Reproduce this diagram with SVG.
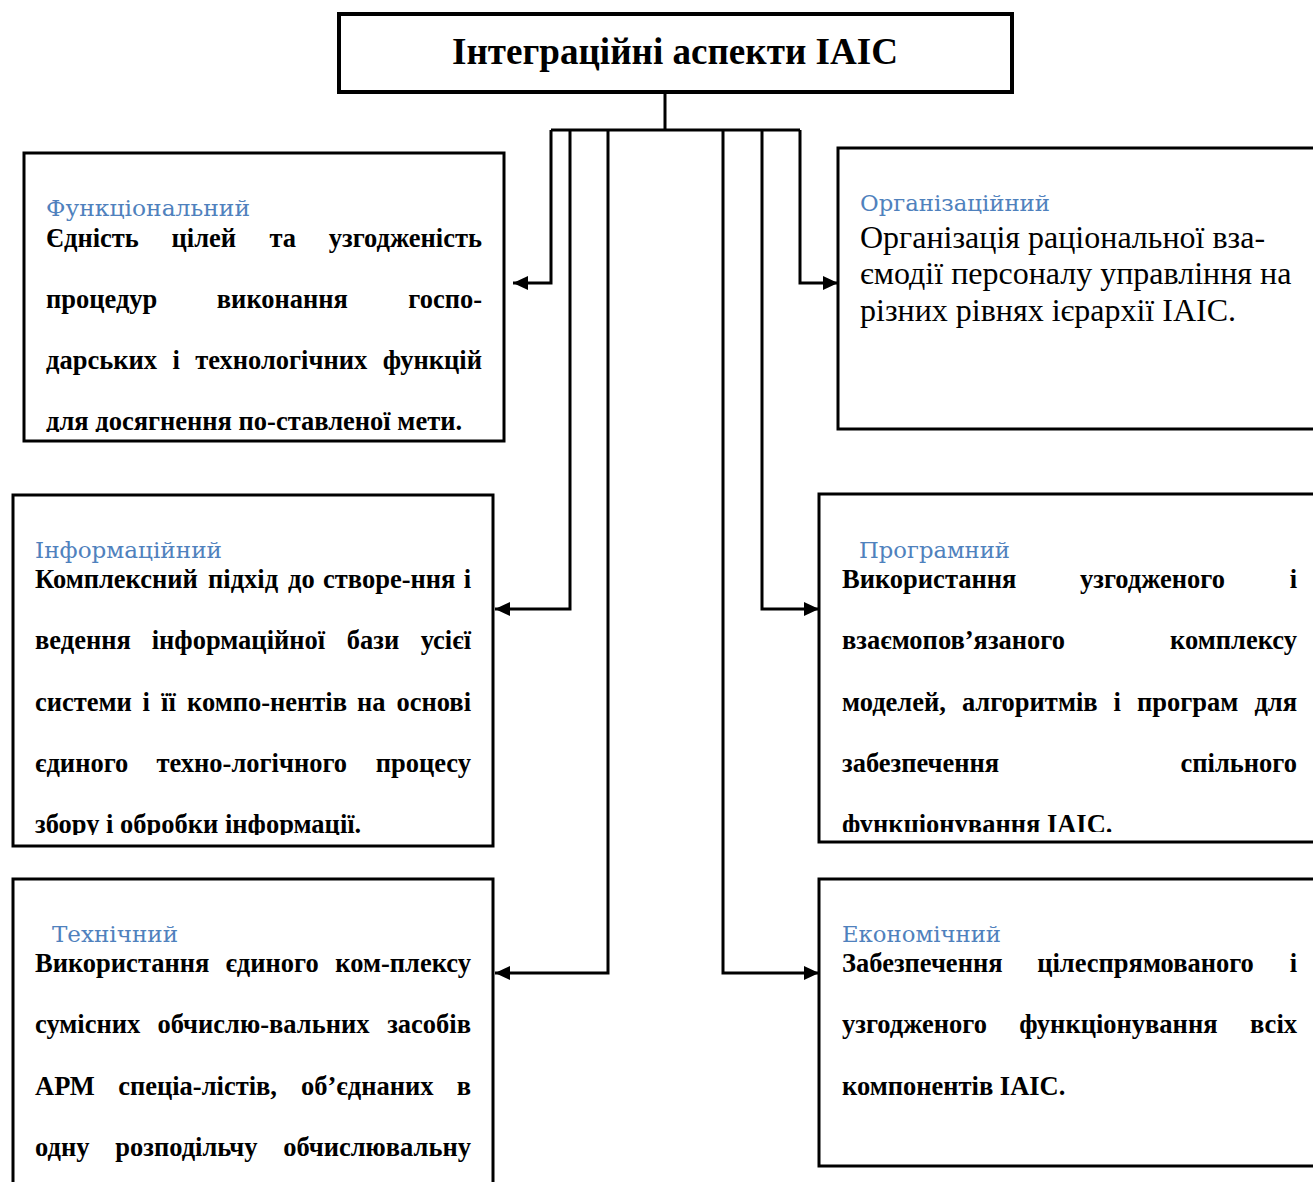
<svg xmlns="http://www.w3.org/2000/svg" width="1313" height="1182" viewBox="0 0 1313 1182">
  <style>
    .box { fill: #ffffff; stroke: #000000; stroke-width: 3; }
    .title-box { fill: #ffffff; stroke: #000000; stroke-width: 4; }
    .title { font-family: "Liberation Serif", "Times New Roman", serif; font-weight: bold; font-size: 38px; fill: #000000; }
    .head { font-family: "DejaVu Serif", "Liberation Serif", serif; font-size: 22.5px; fill: #4F81BD; }
    .body { font-family: "Liberation Serif", "Times New Roman", serif; font-weight: bold; font-size: 26.5px; fill: #000000; }
    .plain { font-family: "Liberation Serif", "Times New Roman", serif; font-size: 32px; fill: #000000; }
    .end { text-anchor: end; }
    .link { fill: none; stroke: #000000; stroke-width: 3; marker-end: url(#arrow); }
    .trunk { fill: none; stroke: #000000; stroke-width: 3; }
  </style>
  <defs>
    <marker id="arrow" markerUnits="userSpaceOnUse" markerWidth="16" markerHeight="14" refX="15" refY="7" orient="auto">
      <path d="M0,0 L15,7 L0,14 Z" fill="#000000"/>
    </marker>
    <clipPath id="clip-func"><rect x="24" y="153" width="480" height="279"/></clipPath>
    <clipPath id="clip-info"><rect x="13" y="495" width="480" height="340"/></clipPath>
    <clipPath id="clip-prog"><rect x="819" y="494" width="494" height="338"/></clipPath>
  </defs>

  <rect width="1313" height="1182" fill="#ffffff"/>

  <!-- connectors -->
  <g id="connectors">
    <path class="trunk" d="M665 92 V130 M551 130 H800"/>
    <path class="link" d="M551 130 V283 H513"/>
    <path class="link" d="M570 130 V609 H495"/>
    <path class="link" d="M608 130 V973 H495"/>
    <path class="link" d="M723 130 V973 H819"/>
    <path class="link" d="M762 130 V609 H819"/>
    <path class="link" d="M800 130 V283 H838"/>
  </g>

  <!-- root -->
  <g id="node-root">
    <rect class="title-box" x="339" y="14" width="673" height="78"/>
    <text class="title" x="675" y="64" text-anchor="middle" textLength="446" lengthAdjust="spacingAndGlyphs">Інтеграційні аспекти IAIC</text>
  </g>

  <!-- functional -->
  <g id="node-functional">
    <rect class="box" x="24" y="153" width="480" height="288"/>
    <text class="head" x="46" y="216" textLength="204" lengthAdjust="spacingAndGlyphs">Функціональний</text>
    <g clip-path="url(#clip-func)">
      <text class="body" y="247"><tspan x="46">Єдність</tspan><tspan x="171.5">цілей</tspan><tspan x="269.5">та</tspan><tspan x="482" class="end">узгодженість</tspan></text>
      <text class="body" y="308"><tspan x="46">процедур</tspan><tspan x="216.8">виконання</tspan><tspan x="482" class="end">госпо-</tspan></text>
      <text class="body" y="369"><tspan x="46">дарських</tspan><tspan x="172.6">і</tspan><tspan x="195.3">технологічних</tspan><tspan x="482" class="end">функцій</tspan></text>
      <text class="body" x="46" y="430">для досягнення по-ставленої мети.</text>
    </g>
  </g>

  <!-- organisational -->
  <g id="node-organisational">
    <rect class="box" x="838" y="148" width="490" height="281"/>
    <text class="head" x="860" y="211" textLength="190" lengthAdjust="spacingAndGlyphs">Організаційний</text>
    <text class="plain" x="860" y="248">Організація раціональної вза-</text>
    <text class="plain" x="860" y="284">ємодії персоналу управління на</text>
    <text class="plain" x="860" y="321">різних рівнях ієрархії IAIC.</text>
  </g>

  <!-- informational -->
  <g id="node-informational">
    <rect class="box" x="13" y="495" width="480" height="351"/>
    <text class="head" x="35" y="558" textLength="187" lengthAdjust="spacingAndGlyphs">Інформаційний</text>
    <g clip-path="url(#clip-info)">
      <text class="body" y="588"><tspan x="35">Комплексний</tspan><tspan x="208">підхід</tspan><tspan x="288">до</tspan><tspan x="323">створе-ння</tspan><tspan x="471" class="end">і</tspan></text>
      <text class="body" y="649"><tspan x="35">ведення</tspan><tspan x="151.7">інформаційної</tspan><tspan x="346.8">бази</tspan><tspan x="471" class="end">усієї</tspan></text>
      <text class="body" y="711"><tspan x="35">системи</tspan><tspan x="142.6">і</tspan><tspan x="161.1">її</tspan><tspan x="187">компо-нентів</tspan><tspan x="357.1">на</tspan><tspan x="471" class="end">основі</tspan></text>
      <text class="body" y="772"><tspan x="35">єдиного</tspan><tspan x="156.6">техно-логічного</tspan><tspan x="471" class="end">процесу</tspan></text>
      <text class="body" x="35" y="833">збору і обробки інформації.</text>
    </g>
  </g>

  <!-- software -->
  <g id="node-software">
    <rect class="box" x="819" y="494" width="510" height="348"/>
    <text class="head" x="859" y="558" textLength="151" lengthAdjust="spacingAndGlyphs">Програмний</text>
    <g clip-path="url(#clip-prog)">
      <text class="body" y="588"><tspan x="842">Використання</tspan><tspan x="1080">узгодженого</tspan><tspan x="1297" class="end">і</tspan></text>
      <text class="body" y="649"><tspan x="842">взаємопов’язаного</tspan><tspan x="1297" class="end">комплексу</tspan></text>
      <text class="body" y="711"><tspan x="842">моделей,</tspan><tspan x="961.9">алгоритмів</tspan><tspan x="1113.6">і</tspan><tspan x="1137">програм</tspan><tspan x="1297" class="end">для</tspan></text>
      <text class="body" y="772"><tspan x="842">забезпечення</tspan><tspan x="1297" class="end">спільного</tspan></text>
      <text class="body" x="842" y="833">функціонування IAIC.</text>
    </g>
  </g>

  <!-- technical -->
  <g id="node-technical">
    <rect class="box" x="13" y="879" width="480" height="320"/>
    <text class="head" x="52" y="942" textLength="126" lengthAdjust="spacingAndGlyphs">Технічний</text>
    <text class="body" y="972"><tspan x="35">Використання</tspan><tspan x="225.4">єдиного</tspan><tspan x="471" class="end">ком-плексу</tspan></text>
    <text class="body" y="1033"><tspan x="35">сумісних</tspan><tspan x="157.6">обчислю-вальних</tspan><tspan x="471" class="end">засобів</tspan></text>
    <text class="body" y="1095"><tspan x="35">АРМ</tspan><tspan x="118.2">спеціа-лістів,</tspan><tspan x="301">об’єднаних</tspan><tspan x="471" class="end">в</tspan></text>
    <text class="body" y="1156"><tspan x="35">одну</tspan><tspan x="115.3">розподільчу</tspan><tspan x="471" class="end">обчислювальну</tspan></text>
  </g>

  <!-- economic -->
  <g id="node-economic">
    <rect class="box" x="819" y="879" width="510" height="287"/>
    <text class="head" x="842" y="942" textLength="159" lengthAdjust="spacingAndGlyphs">Економічний</text>
    <text class="body" y="972"><tspan x="842">Забезпечення</tspan><tspan x="1037.2">цілеспрямованого</tspan><tspan x="1297" class="end">і</tspan></text>
    <text class="body" y="1033"><tspan x="842">узгодженого</tspan><tspan x="1019.2">функціонування</tspan><tspan x="1297" class="end">всіх</tspan></text>
    <text class="body" x="842" y="1095">компонентів IAIC.</text>
  </g>
</svg>
